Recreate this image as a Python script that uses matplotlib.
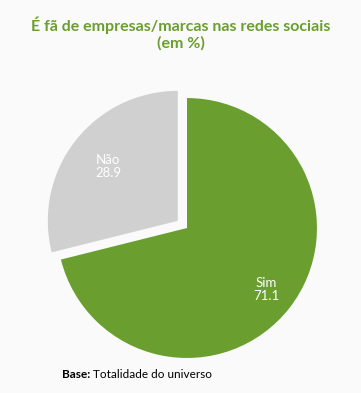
import matplotlib.pyplot as plt
import numpy as np

plt.rcParams["font.family"] = ["Lato", "DejaVu Sans"]

labels = ["Sim", "Não"]
values = [71.1, 28.9]
colors = ["#6a9e2e", "#d0d0d0"]
explode = [0, 0.09]
label_dist = [0.77, 0.68]

fig = plt.figure(figsize=(3.61, 3.93), dpi=100, facecolor="#fafafa")
ax = fig.add_axes([0.158, 0.089, 0.720, 0.6616])
ax.set_facecolor("#fafafa")

wedges, _ = ax.pie(values, colors=colors, explode=explode, startangle=90,
                   counterclock=False, radius=1)
for w in wedges:
    w.set_clip_on(False)

# value labels inside each slice
for w, lab, val, d in zip(wedges, labels, values, label_dist):
    ang = np.deg2rad((w.theta1 + w.theta2) / 2)
    cx, cy = w.center
    ax.text(cx + d * np.cos(ang), cy + d * np.sin(ang), f"{lab}\n{val:.1f}",
            ha="center", va="center", color="white", fontsize=9.5,
            linespacing=1.1)

ax.set_xlim(-1, 1)
ax.set_ylim(-1, 1)
ax.set_aspect("equal")
ax.axis("off")

fig.text(0.5, 0.914, "É fã de empresas/marcas nas redes sociais\n(em %)",
         ha="center", va="center", color="#6a9e2e", fontsize=11.5,
         fontweight="bold", linespacing=1.2)
base = fig.text(0.172, 0.046, "Base:", ha="left", va="center", fontsize=8.5,
                fontweight="bold", color="black")
ax.annotate(" Totalidade do universo", xy=(1, 0.5), xycoords=base,
            ha="left", va="center", fontsize=8.5, color="black")

fig.savefig("out.png", dpi=100, facecolor=fig.get_facecolor())
